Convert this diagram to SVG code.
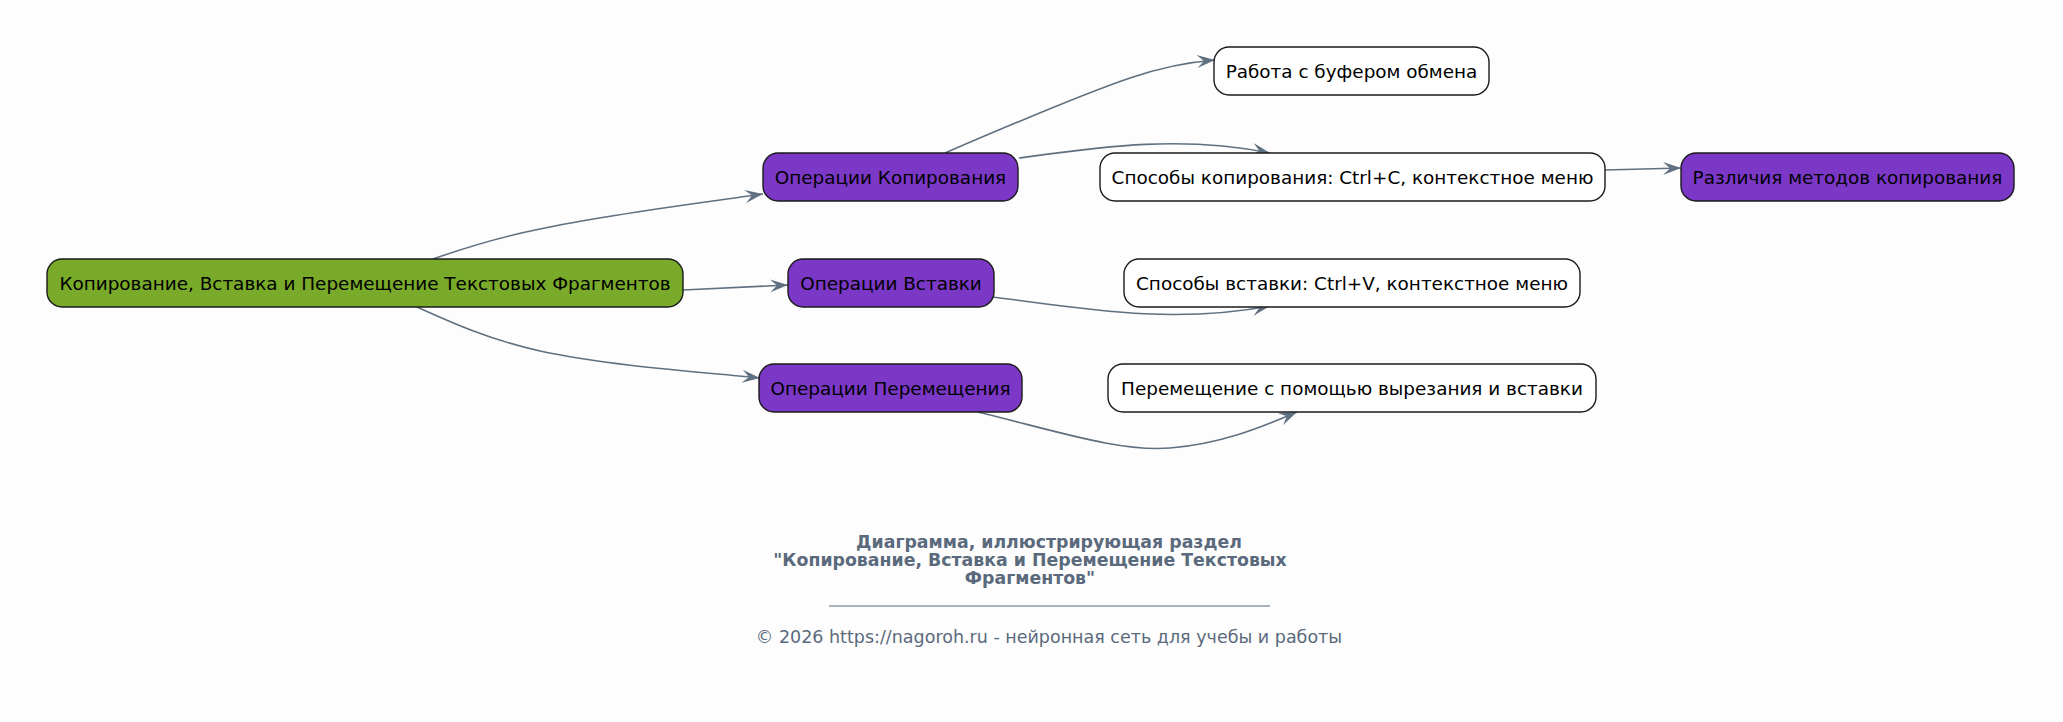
<svg xmlns="http://www.w3.org/2000/svg" width="2063" height="722" viewBox="0 0 2063 722">
<style>
.n rect{stroke:#1a1a1a;stroke-width:1.4}
.root rect{fill:#79aa2a}
.p rect{fill:#7b38c6}
.w rect{fill:#ffffff}
.n text{font-family:"DejaVu Sans",sans-serif;font-size:18.4px;fill:#000;text-anchor:middle}
.e path{fill:none;stroke:#5f7080;stroke-width:1.6;marker-end:url(#ah)}
.t{font-family:"DejaVu Sans",sans-serif;fill:#5a6a7c;text-anchor:middle}
.tb{font-weight:bold;font-size:17.35px}
.ft{font-size:17.5px}
</style>
<defs>
<marker id="ah" markerUnits="userSpaceOnUse" viewBox="0 0 19 14" refX="18" refY="7" markerWidth="19" markerHeight="14" orient="auto">
<path d="M0,0.5 L18,7 L0,13.5 L7,7 Z" fill="#5f7080"/>
</marker>
</defs>
<rect x="0" y="0" width="2063" height="722" fill="#fdfdfd"/>
<g id="edges" class="e">
<path d="M433,259 C470,246 500,237 540,229 C610,214 700,203 763,194"/>
<path d="M683,290 L788,285"/>
<path d="M417,307 C450,322 490,340 540,351 C610,366 700,372 760,378"/>
<path d="M945,153 C1010,125 1080,95 1130,78 C1165,66 1190,62 1215,60"/>
<path d="M1019,158 C1100,147 1180,135 1270,153"/>
<path d="M1605,170 L1681,168"/>
<path d="M993,297 C1080,308 1170,325 1270,306"/>
<path d="M978,412 C1060,432 1120,452 1170,448 C1220,444 1260,428 1297,412"/>
</g>
<g id="root" class="n root"><rect x="47" y="259" width="636" height="48" rx="15"/><text x="365" y="289.5">Копирование, Вставка и Перемещение Текстовых Фрагментов</text></g>
<g id="copyops" class="n p"><rect x="763" y="153" width="255" height="48" rx="15"/><text x="890.5" y="183.5">Операции Копирования</text></g>
<g id="pasteops" class="n p"><rect x="788" y="259" width="206" height="48" rx="15"/><text x="891" y="289.5">Операции Вставки</text></g>
<g id="moveops" class="n p"><rect x="759" y="364" width="263" height="48" rx="15"/><text x="890.5" y="394.5">Операции Перемещения</text></g>
<g id="clipboard" class="n w"><rect x="1214" y="47" width="275" height="48" rx="15"/><text x="1351.5" y="77.5">Работа с буфером обмена</text></g>
<g id="copyways" class="n w"><rect x="1100" y="153" width="505" height="48" rx="15"/><text x="1352.5" y="183.5">Способы копирования: Ctrl+C, контекстное меню</text></g>
<g id="diffs" class="n p"><rect x="1681" y="153" width="333" height="48" rx="15"/><text x="1847.5" y="183.5">Различия методов копирования</text></g>
<g id="pasteways" class="n w"><rect x="1124" y="259" width="456" height="48" rx="15"/><text x="1352" y="289.5">Способы вставки: Ctrl+V, контекстное меню</text></g>
<g id="moveways" class="n w"><rect x="1108" y="364" width="488" height="48" rx="15"/><text x="1352" y="394.5">Перемещение с помощью вырезания и вставки</text></g>
<g id="title">
<text class="t tb" x="1049" y="548">Диаграмма, иллюстрирующая раздел</text>
<text class="t tb" x="1030" y="566">"Копирование, Вставка и Перемещение Текстовых</text>
<text class="t tb" x="1030" y="584">Фрагментов"</text>
<line x1="829" y1="606" x2="1270" y2="606" stroke="#5a6a7c" stroke-width="1.2"/>
<text class="t ft" x="1049" y="643">© 2026 https://nagoroh.ru - нейронная сеть для учебы и работы</text>
</g>
</svg>
